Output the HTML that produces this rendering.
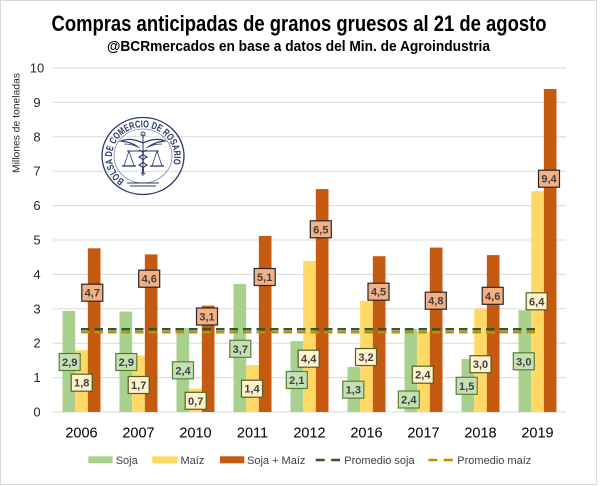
<!DOCTYPE html>
<html><head><meta charset="utf-8">
<style>
html,body{margin:0;padding:0;background:#fff;}
svg{display:block;}
text{font-family:"Liberation Sans",sans-serif;}
</style></head>
<body>
<svg width="600" height="486" viewBox="0 0 600 486" xmlns="http://www.w3.org/2000/svg">
<rect x="0" y="0" width="600" height="486" fill="#fff"/>
<rect x="0.5" y="0.5" width="596" height="484" fill="#fff" stroke="#d9d9d9" stroke-width="1"/>

<!-- Titles -->
<text x="51.5" y="31" font-size="22" font-weight="bold" fill="#000" textLength="495" lengthAdjust="spacingAndGlyphs" style="font-family:'Liberation Sans Narrow','Liberation Sans',sans-serif">Compras anticipadas de granos gruesos al 21 de agosto</text>
<text x="107" y="51" font-size="14.5" font-weight="bold" fill="#000" textLength="383" lengthAdjust="spacingAndGlyphs" style="font-family:'Liberation Sans Narrow','Liberation Sans',sans-serif">@BCRmercados en base a datos del Min. de Agroindustria</text>

<!-- gridlines -->
<g stroke="#d9d9d9" stroke-width="1">
<line x1="53" y1="68" x2="566" y2="68"/>
<line x1="53" y1="102.4" x2="566" y2="102.4"/>
<line x1="53" y1="136.8" x2="566" y2="136.8"/>
<line x1="53" y1="171.2" x2="566" y2="171.2"/>
<line x1="53" y1="205.6" x2="566" y2="205.6"/>
<line x1="53" y1="240" x2="566" y2="240"/>
<line x1="53" y1="274.4" x2="566" y2="274.4"/>
<line x1="53" y1="308.8" x2="566" y2="308.8"/>
<line x1="53" y1="343.2" x2="566" y2="343.2"/>
<line x1="53" y1="377.6" x2="566" y2="377.6"/>
<line x1="53" y1="412" x2="566" y2="412"/>
</g>

<!-- y tick labels -->
<g font-size="13" fill="#262626" text-anchor="middle">
<text x="37" y="72.5">10</text>
<text x="37" y="106.9">9</text>
<text x="37" y="141.3">8</text>
<text x="37" y="175.7">7</text>
<text x="37" y="210.1">6</text>
<text x="37" y="244.5">5</text>
<text x="37" y="278.9">4</text>
<text x="37" y="313.3">3</text>
<text x="37" y="347.7">2</text>
<text x="37" y="382.1">1</text>
<text x="37" y="416.5">0</text>
</g>
<text transform="translate(19.5,123) rotate(-90)" font-size="10.5" fill="#262626" text-anchor="middle" textLength="100" lengthAdjust="spacingAndGlyphs">Millones de toneladas</text>

<!-- Logo -->
<g fill="none" stroke="#2b3a67">
<ellipse cx="143" cy="156" rx="41" ry="38.5" stroke-width="1.3"/>
<ellipse cx="143" cy="156" rx="29" ry="27" stroke-width="0.8" opacity="0.6"/>
</g>
<defs>
<path id="ring" d="M 124.6 180.5 A 31 29.5 0 1 1 161.4 180.5"/>
</defs>
<text font-size="10" font-weight="bold" fill="#2b3a67" textLength="130" lengthAdjust="spacingAndGlyphs"><textPath href="#ring" textLength="130" lengthAdjust="spacingAndGlyphs">BOLSA DE COMERCIO DE ROSARIO</textPath></text>
<g stroke="#2b3a67" fill="none" stroke-width="1">
<line x1="143" y1="134" x2="143" y2="176"/>
<path d="M143 143 Q130 137 121 141 Q131 142 138 147" stroke-width="1.2"/>
<path d="M143 143 Q156 137 165 141 Q155 142 148 147" stroke-width="1.2"/>
<path d="M124 144 Q133 144 140 148 M162 144 Q153 144 146 148" stroke-width="0.7"/>
<line x1="127" y1="151" x2="159" y2="151"/>
<path d="M129 151 L124 166 L134 166 Z" stroke-width="0.8"/>
<path d="M157 151 L152 166 L162 166 Z" stroke-width="0.8"/>
<line x1="122" y1="166" x2="136" y2="166" stroke-width="1.3"/>
<line x1="150" y1="166" x2="164" y2="166" stroke-width="1.3"/>
<path d="M139 150 Q147 153 139 157 Q147 161 139 165 Q147 169 141 174" stroke-width="1.1"/>
<path d="M147 150 Q139 153 147 157 Q139 161 147 165 Q139 169 145 174" stroke-width="1.1"/>
<circle cx="143" cy="134" r="2"/>
<line x1="127" y1="183" x2="159" y2="183" stroke-width="0.9"/>
<line x1="130" y1="186" x2="156" y2="186" stroke-width="0.9"/>
</g>

<!-- Bars: green -->
<g fill="#a9d18e">
<rect x="62.5" y="310.9" width="12.67" height="101.1"/>
<rect x="119.5" y="311.6" width="12.67" height="100.4"/>
<rect x="176.5" y="328.1" width="12.67" height="83.9"/>
<rect x="233.5" y="284" width="12.67" height="128"/>
<rect x="290.5" y="341.1" width="12.67" height="70.9"/>
<rect x="347.5" y="366.9" width="12.67" height="45.1"/>
<rect x="404.5" y="328.8" width="12.67" height="83.2"/>
<rect x="461.5" y="359" width="12.67" height="53"/>
<rect x="518.5" y="310.2" width="12.67" height="101.8"/>
</g>
<!-- yellow -->
<g fill="#ffd966">
<rect x="75.17" y="350.1" width="12.67" height="61.9"/>
<rect x="132.17" y="355.6" width="12.67" height="56.4"/>
<rect x="189.17" y="388.6" width="12.67" height="23.4"/>
<rect x="246.17" y="364.9" width="12.67" height="47.1"/>
<rect x="303.17" y="261" width="12.67" height="151"/>
<rect x="360.17" y="300.9" width="12.67" height="111.1"/>
<rect x="417.17" y="331.8" width="12.67" height="80.2"/>
<rect x="474.17" y="308.8" width="12.67" height="103.2"/>
<rect x="531.17" y="191.2" width="12.67" height="220.8"/>
</g>
<!-- orange -->
<g fill="#c55a11">
<rect x="87.83" y="248.3" width="12.67" height="163.7"/>
<rect x="144.83" y="254.4" width="12.67" height="157.6"/>
<rect x="201.83" y="305.7" width="12.67" height="106.3"/>
<rect x="258.83" y="235.9" width="12.67" height="176.1"/>
<rect x="315.83" y="189.1" width="12.67" height="222.9"/>
<rect x="372.83" y="256.2" width="12.67" height="155.8"/>
<rect x="429.83" y="247.6" width="12.67" height="164.4"/>
<rect x="486.83" y="255.1" width="12.67" height="156.9"/>
<rect x="543.83" y="89" width="12.67" height="323"/>
</g>

<!-- average lines -->
<line x1="81" y1="332.3" x2="537" y2="332.3" stroke="#bf9000" stroke-width="2.5" stroke-dasharray="8.5 5"/>
<line x1="81" y1="329.3" x2="537" y2="329.3" stroke="#375623" stroke-width="2.5" stroke-dasharray="8.5 5"/>

<!-- data labels -->
<g font-size="11" font-weight="bold" fill="#404040" text-anchor="middle">
<!-- green -->
<g>
<rect x="59.2" y="353.5" width="21" height="17" fill="#c5e0b4" stroke="#548235" stroke-width="1.2"/><text x="69.7" y="366">2,9</text>
<rect x="115.8" y="353.5" width="21" height="17" fill="#c5e0b4" stroke="#548235" stroke-width="1.2"/><text x="126.3" y="366">2,9</text>
<rect x="172.5" y="361.8" width="21" height="17" fill="#c5e0b4" stroke="#548235" stroke-width="1.2"/><text x="183" y="374.3">2,4</text>
<rect x="229.8" y="340.3" width="21" height="17" fill="#c5e0b4" stroke="#548235" stroke-width="1.2"/><text x="240.3" y="352.8">3,7</text>
<rect x="286.3" y="371.5" width="21" height="17" fill="#c5e0b4" stroke="#548235" stroke-width="1.2"/><text x="296.8" y="384">2,1</text>
<rect x="342.8" y="381.2" width="21" height="17" fill="#c5e0b4" stroke="#548235" stroke-width="1.2"/><text x="353.3" y="393.7">1,3</text>
<rect x="398.3" y="391" width="21" height="17" fill="#c5e0b4" stroke="#548235" stroke-width="1.2"/><text x="408.8" y="403.5">2,4</text>
<rect x="456.2" y="377.3" width="21" height="17" fill="#c5e0b4" stroke="#548235" stroke-width="1.2"/><text x="466.7" y="389.8">1,5</text>
<rect x="513.3" y="352.8" width="21" height="17" fill="#c5e0b4" stroke="#548235" stroke-width="1.2"/><text x="523.8" y="365.3">3,0</text>
</g>
<!-- yellow -->
<g>
<rect x="71.2" y="374.2" width="21" height="17" fill="#fff2cc" stroke="#4f6228" stroke-width="1.2"/><text x="81.7" y="386.7">1,8</text>
<rect x="128.2" y="376.5" width="21" height="17" fill="#fff2cc" stroke="#4f6228" stroke-width="1.2"/><text x="138.7" y="389">1,7</text>
<rect x="185.2" y="392.3" width="21" height="17" fill="#fff2cc" stroke="#4f6228" stroke-width="1.2"/><text x="195.7" y="404.8">0,7</text>
<rect x="241.5" y="380.2" width="21" height="17" fill="#fff2cc" stroke="#4f6228" stroke-width="1.2"/><text x="252" y="392.7">1,4</text>
<rect x="298.2" y="350.2" width="21" height="17" fill="#fff2cc" stroke="#4f6228" stroke-width="1.2"/><text x="308.7" y="362.7">4,4</text>
<rect x="355.5" y="348.5" width="21" height="17" fill="#fff2cc" stroke="#4f6228" stroke-width="1.2"/><text x="366" y="361">3,2</text>
<rect x="412.3" y="366.2" width="21" height="17" fill="#fff2cc" stroke="#4f6228" stroke-width="1.2"/><text x="422.8" y="378.7">2,4</text>
<rect x="470" y="355.7" width="21" height="17" fill="#fff2cc" stroke="#4f6228" stroke-width="1.2"/><text x="480.5" y="368.2">3,0</text>
<rect x="526.2" y="292.8" width="21" height="17" fill="#fff2cc" stroke="#4f6228" stroke-width="1.2"/><text x="536.7" y="305.3">6,4</text>
</g>
<!-- orange -->
<g>
<rect x="81.8" y="284.2" width="21" height="17" fill="#f4b183" stroke="#262626" stroke-width="1.2"/><text x="92.3" y="296.7">4,7</text>
<rect x="138.7" y="270.2" width="21" height="17" fill="#f4b183" stroke="#262626" stroke-width="1.2"/><text x="149.2" y="282.7">4,6</text>
<rect x="196.5" y="308" width="21" height="17" fill="#f4b183" stroke="#262626" stroke-width="1.2"/><text x="207" y="320.5">3,1</text>
<rect x="254.2" y="268.5" width="21" height="17" fill="#f4b183" stroke="#262626" stroke-width="1.2"/><text x="264.7" y="281">5,1</text>
<rect x="310.3" y="220.8" width="21" height="17" fill="#f4b183" stroke="#262626" stroke-width="1.2"/><text x="320.8" y="233.3">6,5</text>
<rect x="368" y="283.2" width="21" height="17" fill="#f4b183" stroke="#262626" stroke-width="1.2"/><text x="378.5" y="295.7">4,5</text>
<rect x="425.3" y="292.2" width="21" height="17" fill="#f4b183" stroke="#262626" stroke-width="1.2"/><text x="435.8" y="304.7">4,8</text>
<rect x="482.2" y="287.3" width="21" height="17" fill="#f4b183" stroke="#262626" stroke-width="1.2"/><text x="492.7" y="299.8">4,6</text>
<rect x="538.5" y="170.2" width="21" height="17" fill="#f4b183" stroke="#262626" stroke-width="1.2"/><text x="549" y="182.7">9,4</text>
</g>
</g>

<!-- x labels -->
<g font-size="14.5" fill="#000" text-anchor="middle">
<text x="81.5" y="437.3">2006</text>
<text x="138.5" y="437.3">2007</text>
<text x="195.5" y="437.3">2010</text>
<text x="252.5" y="437.3">2011</text>
<text x="309.5" y="437.3">2012</text>
<text x="366.5" y="437.3">2016</text>
<text x="423.5" y="437.3">2017</text>
<text x="480.5" y="437.3">2018</text>
<text x="537.5" y="437.3">2019</text>
</g>

<!-- legend -->
<g font-size="11" fill="#404040">
<rect x="88.3" y="456.3" width="24.4" height="7" fill="#a9d18e"/>
<text x="115.7" y="464">Soja</text>
<rect x="152.3" y="456.3" width="25.4" height="7" fill="#ffd966"/>
<text x="180.5" y="464">Maíz</text>
<rect x="220" y="456.3" width="24.3" height="7" fill="#c55a11"/>
<text x="247" y="464">Soja + Maíz</text>
<line x1="315.7" y1="460" x2="340" y2="460" stroke="#375623" stroke-width="2.5" stroke-dasharray="9 6.5"/>
<text x="344.3" y="464">Promedio soja</text>
<line x1="428.3" y1="460" x2="452.7" y2="460" stroke="#bf9000" stroke-width="2.5" stroke-dasharray="9 6.5"/>
<text x="457.3" y="464">Promedio maíz</text>
</g>
</svg>
</body></html>
